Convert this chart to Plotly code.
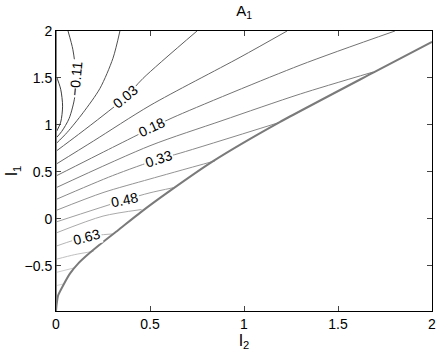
import plotly.graph_objects as go

# contour lines of A_1 (I_2 on x, I_1 on y)
c01_x = [0.0, 0.025, 0.035, 0.025, 0.0]
c01_y = [1.53, 1.38, 1.20, 1.03, 0.92]
c02_x = [0.064, 0.09, 0.105, 0.10, 0.07, 0.03, 0.0]
c02_y = [2.0, 1.80, 1.55, 1.30, 1.07, 0.93, 0.86]
c03_x = [0.34, 0.303, 0.234, 0.144, 0.059, 0.0]
c03_y = [2.0, 1.71, 1.39, 1.13, 0.92, 0.80]
c04_x = [0.0, 0.12, 0.25, 0.367, 0.463, 0.75]
c04_y = [0.72, 0.90, 1.10, 1.29, 1.496, 2.0]
c05_x = [0.0, 0.2, 0.5, 0.979, 1.229]
c05_y = [0.582, 0.83, 1.207, 1.72, 2.0]
c06_x = [0.0, 0.3, 0.51, 0.622, 1.298, 1.803]
c06_y = [0.457, 0.76, 0.97, 1.079, 1.636, 2.0]
c07_x = [0.0, 0.5, 0.883, 1.3, 1.688]
c07_y = [0.332, 0.779, 1.046, 1.33, 1.564]
c08_x = [0.0, 0.3, 0.543, 0.66, 1.19]
c08_y = [0.207, 0.46, 0.635, 0.70, 1.028]
c09_x = [0.0, 0.25, 0.5, 0.846]
c09_y = [0.09, 0.28, 0.425, 0.618]
c10_x = [0.0, 0.362, 0.5, 0.624]
c10_y = [-0.033, 0.20, 0.278, 0.332]
c11_x = [0.0, 0.25, 0.455]
c11_y = [-0.15, 0.03, 0.10]
c12_x = [0.0, 0.16, 0.30]
c12_y = [-0.29, -0.19, -0.16]
c13_x = [0.0, 0.1, 0.2]
c13_y = [-0.43, -0.38, -0.345]
c14_x = [0.0, 0.1]
c14_y = [-0.57, -0.52]
c15_x = [0.0, 0.045]
c15_y = [-0.71, -0.69]

# edge of the valid region
edge_x = [0.0, 0.004, 0.012, 0.04, 0.075, 0.12, 0.18, 0.25, 0.33, 0.45,
          0.6, 0.84, 1.19, 1.69, 2.0]
edge_y = [-0.98, -0.90, -0.81, -0.70, -0.58, -0.47, -0.36, -0.245, -0.12,
          0.07, 0.29, 0.62, 1.03, 1.56, 1.885]

# contour labels
label_text = ["\u22120.11", "0.03", "0.18", "0.33", "0.48", "0.63"]
label_x = [0.106, 0.367, 0.51, 0.543, 0.362, 0.16]
label_y = [1.50, 1.293, 0.98, 0.638, 0.20, -0.19]
label_angle = [-85, -40, -25, -18, -12, -15]

x_ticks = [0, 0.5, 1, 1.5, 2]
y_ticks = [-0.5, 0, 0.5, 1, 1.5, 2]

contours = [
    (c01_x, c01_y), (c02_x, c02_y), (c03_x, c03_y), (c04_x, c04_y),
    (c05_x, c05_y), (c06_x, c06_y), (c07_x, c07_y), (c08_x, c08_y),
    (c09_x, c09_y), (c10_x, c10_y), (c11_x, c11_y), (c12_x, c12_y),
    (c13_x, c13_y), (c14_x, c14_y), (c15_x, c15_y),
]

FONT = "Liberation Sans, Arial, sans-serif"

fig = go.Figure()

n = len(contours)
for i, (xs, ys) in enumerate(contours):
    g = int(60 + (215 - 60) * i / (n - 1))
    fig.add_trace(go.Scatter(
        x=xs, y=ys, mode="lines",
        line={"color": f"rgb({g},{g},{g})", "width": 1, "shape": "spline", "smoothing": 0.8},
        hoverinfo="skip", showlegend=False,
    ))

# left border of the domain drawn in gray too
fig.add_trace(go.Scatter(
    x=[0, 0], y=[-0.98, 2.0], mode="lines",
    line={"color": "#808080", "width": 2}, hoverinfo="skip", showlegend=False,
))
fig.add_trace(go.Scatter(
    x=edge_x, y=edge_y, mode="lines",
    line={"color": "#7a7a7a", "width": 2, "shape": "spline", "smoothing": 0.6},
    hoverinfo="skip", showlegend=False,
))

for t, x, y, a in zip(label_text, label_x, label_y, label_angle):
    fig.add_annotation(
        x=x, y=y, text=t, textangle=a, showarrow=False,
        bgcolor="white", borderpad=1,
        font={"family": FONT, "size": 14, "color": "black"},
    )

fig.update_layout(
    width=436, height=351,
    margin={"l": 56, "r": 4, "t": 31, "b": 40, "autoexpand": False},
    paper_bgcolor="white", plot_bgcolor="white",
    font={"family": FONT, "size": 14, "color": "black"},
    title={"text": "A<sub>1</sub>", "x": 0.56, "xanchor": "center",
           "y": 0.985, "yanchor": "top", "font": {"size": 15}},
    xaxis={
        "range": [0, 2], "tickvals": x_ticks, "ticktext": [f"{v:g}" for v in x_ticks],
        "ticks": "inside", "ticklen": 5, "showline": True, "linecolor": "black",
        "linewidth": 1, "mirror": "ticks", "showgrid": False, "zeroline": False,
        "automargin": False, "tickfont": {"size": 14}, "ticklabeloverflow": "allow",
        "title": {"text": "I<sub>2</sub>", "standoff": 0, "font": {"size": 16}},
    },
    yaxis={
        "range": [-0.98, 2], "tickvals": y_ticks,
        "ticktext": [f"{v:g}".replace("-", "\u2212") for v in y_ticks],
        "ticks": "inside", "ticklen": 5, "showline": True, "linecolor": "black",
        "linewidth": 1, "mirror": "ticks", "showgrid": False, "zeroline": False,
        "automargin": False, "tickfont": {"size": 14}, "ticklabeloverflow": "allow",
        "title": {"text": "I<sub>1</sub>", "standoff": 2, "font": {"size": 16}},
    },
)

# page body margin would push the figure 8px down/right
fig.write_html("out.html", config={"displayModeBar": False},
               post_script="document.body.style.margin='0';")
